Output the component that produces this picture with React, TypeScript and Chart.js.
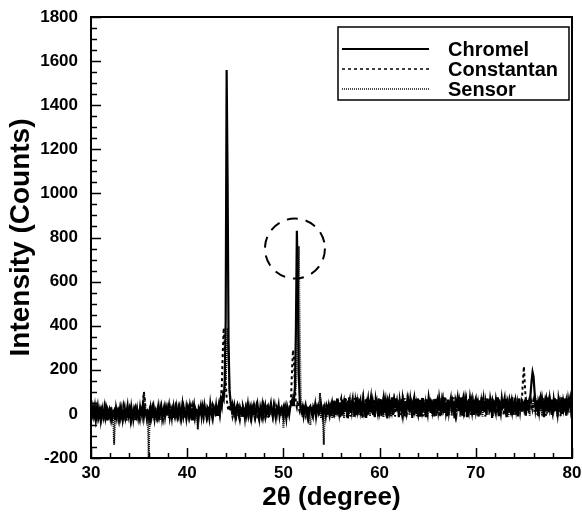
import React, { useEffect, useRef } from 'react';
import { Chart, registerables } from 'chart.js';

Chart.register(...registerables);

// ---- axis definition ----
const twoThetaStart = 30;
const twoThetaStep = 0.1;
const xMin = 30;
const xMax = 80;
const yMin = -200;
const yMax = 1800;
const xTickStep = 10;
const yTickStep = 200;
const xMinorStep = 2;
const yMinorStep = 50;

const xTitle = '2θ (degree)';
const yTitle = 'Intensity (Counts)';
const seriesLabels = ['Chromel', 'Constantan', 'Sensor'];

// ---- intensities, one row per degree (30.0 ... 30.9, 31.0 ...) ----
const chromel = [
  12, -18, 25, -5, 30, -22, 8, 35, -10, 15,
  -25, 20, 5, -15, 28, -8, 18, -30, 10, 22,
  -12, 30, -20, 8, 15, -28, 25, -5, 12, -18,
  32, -10, 20, -25, 5, 28, -15, 10, 38, -8,
  15, -22, 30, 0, -18, 25, 12, -28, 20, 5,
  -15, 28, -5, 18, 40, -12, 22, 10, -20, 15,
  10, -18, 25, -8, 30, 12, -22, 18, 5, -15,
  28, -10, 15, 35, -20, 8, 30, -12, 22, -5,
  18, 40, -15, 10, 25, -18, 32, 5, -10, 28,
  -8, 20, 35, -15, 12, 45, -5, 22, 8, -20,
  30, 10, -12, 38, 15, -25, 20, 42, -8, 18,
  5, -30, 25, 12, 35, -10, 28, -5, 40, 15,
  -12, 30, 20, -8, 45, 10, -15, 32, 18, 5,
  38, -5, 25, 48, 12, 60, 35, 85, 70, 150,
  420, 1560, 1050, 320, 110, 60, 30, 45, 10, 35,
  -10, 25, 40, 5, -15, 30, 15, -8, 35, 20,
  -18, 28, 10, 42, -5, 20, 35, -12, 25, 8,
  30, -10, 18, 45, 12, -20, 28, 5, 38, -8,
  22, 40, -5, 15, 30, -15, 25, 48, 10, -12,
  35, 8, -18, 28, 15, 40, -8, 22, 30, 5,
  -15, 28, 12, -20, 35, 18, -5, 30, 45, 60,
  40, 70, 120, 380, 830, 600, 180, 55, 25, 10,
  30, -8, 22, 40, 5, 18, -12, 28, 35, 10,
  -5, 30, 15, 42, -10, 25, 38, 8, 20, 45,
  10, -15, 30, 22, -8, 35, 18, 40, 5, 28,
  -10, 45, 20, 60, -5, 35, 70, 10, 50, -15,
  30, 65, 0, 40, 72, 15, 55, -20, 38, 62,
  5, 48, 70, 20, -12, 58, 30, 75, 8, 45,
  62, -8, 35, 70, 18, 50, -18, 40, 68, 12,
  45, 75, 5, 55, 25, -15, 65, 38, 10, 70,
  20, 58, -10, 45, 72, 8, 60, 30, -20, 50,
  68, 15, 42, 75, -5, 55, 28, 70, 12, 48,
  -15, 62, 35, 8, 70, 40, -10, 58, 25, 72,
  50, 10, 65, 30, -18, 55, 75, 20, 45, 0,
  70, 35, -8, 60, 22, 72, 12, 50, -15, 65,
  28, 75, 45, 5, 62, 18, 55, -12, 68, 38,
  60, 15, 72, 40, -5, 58, 30, 75, 10, 52,
  -10, 65, 25, 48, 70, 8, 55, 35, -20, 62,
  45, 72, 12, 58, 30, 75, -8, 50, 20, 68,
  35, -15, 60, 22, 72, 40, 10, 65, -5, 55,
  70, 25, 48, -12, 62, 30, 75, 15, 52, 8,
  58, -5, 70, 35, 20, 68, 42, -18, 60, 28,
  12, 65, 40, 75, -10, 55, 22, 70, 35, 50,
  72, 18, -15, 60, 45, 8, 68, 30, 75, -5,
  40, 62, 20, 55, -12, 70, 35, 15, 58, 48,
  25, 65, -8, 50, 30, 20, 45, 95, 150, 190,
  170, 105, 50, 10, 62, -10, 55, 72, 20, 68,
  38, -15, 60, 75, 25, 50, 8, 70, 42, -5,
  65, 30, 72, 12, 55, -12, 68, 40, 20, 75,
  0, 58, 35, 70, -8, 62, 25, 50, 72, 18,
  45,
];

const constantan = [
  -20, 15, -8, 28, 5, -25, 20, -12, 32, 0,
  18, -15, 30, 8, -22, 25, -5, 15, -28, 20,
  5, -20, 22, 10, -12, 30, -25, 18, 0, 25,
  -10, 28, 2, -18, 35, 12, -8, 25, -20, 15,
  30, 5, -15, 22, -25, 10, 28, -5, 15, -18,
  20, -10, 32, 5, 45, 100, 60, 10, -15, 25,
  -12, 22, 8, -20, 15, 35, -8, 28, -15, 10,
  25, -18, 30, 5, -10, 22, 38, -15, 12, 30,
  -5, 20, 35, 12, -20, 28, 8, -12, 32, 15,
  22, -10, 12, 30, -15, 25, 40, 5, -18, 28,
  -8, 32, 18, -5, 25, 40, -20, 15, 30, 10,
  28, 12, -10, 35, 20, -5, 15, 38, 10, -12,
  20, -8, 35, 15, 5, 30, 42, -10, 25, 12,
  30, 18, 40, 25, 55, 70, 130, 280, 390, 300,
  150, 70, 35, 15, 40, 10, 28, -5, 22, 30,
  12, -10, 28, 35, -5, 20, 8, 32, -12, 25,
  15, 30, -8, 20, 38, 5, -15, 28, 12, 35,
  -5, 22, 40, 10, -12, 30, 18, -8, 25, 42,
  8, -15, 28, 35, 12, -10, 20, 38, 5, 30,
  15, 40, 2, -12, 25, 35, 18, -8, 30, 10,
  28, -5, 35, 15, 0, 25, 40, 30, 80, 200,
  290, 250, 120, 50, 30, 60, 25, 10, 35, 18,
  -5, 28, 15, 40, 22, -10, 32, 12, 25, 38,
  20, -8, 30, 12, 35, 18, 40, -5, 28, 15,
  32, 5, 22, 38, 15, 28, -8, 20, 35, 12,
  40, 5, 60, -15, 50, 25, -5, 65, 18, 55,
  70, -8, 35, 58, 10, 68, -18, 45, 75, 20,
  -12, 62, 30, 8, 72, 38, -5, 55, 25, 68,
  15, 50, -20, 65, 40, 5, 72, 22, -10, 58,
  60, 18, 72, -8, 45, 68, 12, 50, 30, -15,
  48, 72, 22, 62, -5, 35, 75, -15, 55, 25,
  5, 38, 65, 18, 55, 70, -12, 40, 62, 20,
  58, 28, -5, 68, 45, 12, 72, 30, -18, 60,
  22, 70, 42, 8, 62, 35, -10, 55, 70, 15,
  -5, 48, 65, 30, 75, -12, 58, 25, 72, 40,
  62, 8, 35, 70, 15, 50, 68, 22, 45, -10,
  18, 58, 40, -15, 72, 25, 60, 5, 48, 70,
  70, 30, -5, 62, 38, 55, 12, 75, 28, -8,
  25, 60, 45, 8, 68, 15, 50, 72, -12, 40,
  65, -8, 30, 72, 12, 58, 75, 20, 45, 60,
  15, 55, 70, 28, 45, -5, 62, 38, 72, 20,
  -12, 68, 22, 58, 72, 10, 48, 65, 30, 55,
  45, 10, 62, 25, 68, 38, 5, 60, 72, -8,
  58, 40, 70, 12, 30, 65, 42, -10, 52, 25,
  20, 72, 8, 50, 62, 28, 40, 55, 70, 150,
  215, 130, 60, 20, 68, 5, 50, 72, 18, 45,
  62, 10, 70, 35, -5, 58, 40, 68, 12, 55,
  72, 22, 45, -8, 65, 30, 58, 15, 70, 40,
  10, 68, 35, 55, 72, 18, 48, 62, -10, 58,
  45, 20, 70, 32, 60, 10, 68, 38, 55, 72,
  30,
];

const sensor = [
  5, -28, 18, -10, 22, -32, 10, -15, 28, -20,
  8, -25, 15, -30, 12, -18, 25, -12, -28, 5,
  -22, 10, -15, 20, -140, -30, 15, -20, 8, -25,
  18, -15, 5, -28, 20, -10, 12, -32, 15, -5,
  -20, 12, -25, 8, 18, -30, 5, -12, 22, -18,
  10, -22, 15, -10, 60, 95, 40, 15, -20, -30,
  -195, 5, -25, 12, -18, 20, -30, 8, -15, 18,
  -10, 20, -28, 12, 5, -22, 15, -15, 25, -8,
  12, -20, 18, -8, -25, 15, 8, -18, 22, -12,
  -15, 25, -5, 10, -22, 18, -10, 28, -18, 5,
  15, -12, 22, -20, 8, 25, -10, 15, -18, 20,
  -5, -70, -15, 20, -8, 25, 5, -18, 22, 10,
  -15, 20, 8, -22, 28, -5, 15, -12, 25, 5,
  -10, 22, 10, 30, -5, 40, 60, 75, 80, 100,
  150, 250, 390, 250, 100, 45, 15, -10, 20, 5,
  -18, 12, 25, -10, 18, -22, 8, 20, -15, 12,
  5, -20, 22, -8, 15, 28, -15, 10, -5, 20,
  -12, 18, 5, -20, 25, -8, 12, 22, -15, 8,
  20, -10, 15, 28, -18, 10, -5, 22, 12, -15,
  8, 25, -12, 18, -5, 20, 30, -10, 15, 5,
  -65, -20, 10, 22, -8, 15, 5, 28, 40, 60,
  80, 70, 90, 120, 200, 500, 760, 350, 80, 20,
  -15, 20, 5, -10, 25, 12, -18, 8, -50, 15,
  20, -12, 10, 25, -5, 18, 30, -8, 95, -20,
  12, -30, -140, 15, 5, -15, 20, 8, -12, 22,
  20, -20, 40, 5, 30, 55, -10, 35, 0, 48,
  -5, 42, 20, -18, 50, 25, 5, 60, -12, 38,
  45, 10, 55, -15, 30, 8, 48, 15, 62, -5,
  28, 58, 2, 40, -12, 35, 52, -8, 45, 20,
  -10, 50, 30, 15, 62, -5, 40, 58, 0, 35,
  55, 0, 38, 20, -15, 50, 10, 48, 62, -8,
  30, 52, -12, 45, 25, 2, 58, 15, 40, 65,
  8, 40, 60, 22, -8, 55, 30, 45, 5, 38,
  62, -5, 28, 50, 15, 45, 0, 60, 32, -12,
  40, 18, 58, 5, 45, 30, 62, -8, 50, 20,
  -5, 48, 15, 55, 38, -12, 42, 60, 5, 30,
  52, 8, 45, -10, 30, 62, 18, 40, 58, 0,
  25, 58, 5, 40, 55, -8, 35, 12, 60, 45,
  0, 38, 60, 28, -12, 50, 42, 10, 55, 30,
  48, 20, 5, 58, 35, -5, 45, 62, 15, 40,
  30, 62, -8, 45, 10, 55, 38, -12, 50, 25,
  58, 12, 40, -5, 50, 30, 62, 20, -10, 48,
  35, 55, 8, 42, 28, -8, 60, 15, 45, 58,
  5, 40, 62, 30, -12, 50, 20, 55, 10, 45,
  55, -5, 38, 60, 22, 45, 8, 52, 30, 40,
  50, 25, 60, 12, 42, 58, -8, 35, 55, 20,
  40, 62, 15, 48, 30, 55, 5, 38, 60, -10,
  45, 20, 58, 32, 0, 50, 62, 18, 40, 55,
  12, 48, 30, 60, 22, -8, 45, 58, 25, 40,
  62, 8, 42, 55, 18, 38, 60, 5, 48, 30,
  25,
];

// highlighted reflection (dashed circle), in data units
const highlightCenter = { x: 51.2, y: 750 };

const FONT = "'Liberation Sans', Arial, Helvetica, sans-serif";

function toPoints(values: number[]) {
  return values.map((v, i) => ({
    x: Math.round((twoThetaStart + i * twoThetaStep) * 10) / 10,
    y: v,
  }));
}

const decorPlugin = {
  id: 'decor',
  afterDatasetsDraw(chart: any) {
    const { ctx, chartArea: a, scales } = chart;
    const xs = scales.x;
    const ys = scales.y;
    ctx.save();

    // dashed highlight circle
    ctx.strokeStyle = '#000';
    ctx.lineWidth = 2;
    ctx.setLineDash([11, 8]);
    ctx.beginPath();
    ctx.arc(xs.getPixelForValue(highlightCenter.x), ys.getPixelForValue(highlightCenter.y), 30, 0, Math.PI * 2);
    ctx.stroke();
    ctx.setLineDash([]);

    // inward ticks
    ctx.lineWidth = 1.5;
    ctx.beginPath();
    for (let v = xMin; v <= xMax + 1e-9; v += xMinorStep) {
      const px = Math.round(xs.getPixelForValue(v)) + 0.5;
      const major = Math.abs(v / xTickStep - Math.round(v / xTickStep)) < 1e-6;
      ctx.moveTo(px, a.bottom);
      ctx.lineTo(px, a.bottom - (major ? 10 : 5));
    }
    for (let v = yMin; v <= yMax + 1e-9; v += yMinorStep) {
      const py = Math.round(ys.getPixelForValue(v)) + 0.5;
      const major = Math.abs(v / yTickStep - Math.round(v / yTickStep)) < 1e-6;
      ctx.moveTo(a.left, py);
      ctx.lineTo(a.left + (major ? 10 : 6), py);
    }
    ctx.stroke();

    // frame
    ctx.lineWidth = 2;
    ctx.strokeRect(a.left, a.top, a.right - a.left, a.bottom - a.top);

    // legend
    const lw = 231;
    const lh = 73;
    const lx = a.right - lw - 3;
    const ly = a.top + 10;
    ctx.fillStyle = '#fff';
    ctx.fillRect(lx, ly, lw, lh);
    ctx.lineWidth = 1.5;
    ctx.strokeRect(lx, ly, lw, lh);
    ctx.font = `bold 20px ${FONT}`;
    ctx.textBaseline = 'middle';
    ctx.textAlign = 'left';
    chart.data.datasets.forEach((ds: any, i: number) => {
      const yy = ly + 22 + i * 20;
      ctx.strokeStyle = ds.borderColor;
      ctx.lineWidth = i === 0 ? 2 : 1.5;
      ctx.setLineDash(ds.borderDash || []);
      ctx.beginPath();
      ctx.moveTo(lx + 4, yy);
      ctx.lineTo(lx + 91, yy);
      ctx.stroke();
      ctx.setLineDash([]);
      ctx.fillStyle = '#000';
      ctx.fillText(ds.label, lx + 110, yy + 1);
    });

    ctx.restore();
  },
};

export default function App() {
  const canvasRef = useRef<HTMLCanvasElement | null>(null);

  useEffect(() => {
    if (!canvasRef.current) return;
    const chart = new Chart(canvasRef.current, {
      type: 'line',
      data: {
        datasets: [
          {
            label: seriesLabels[0],
            data: toPoints(chromel),
            borderColor: '#000',
            borderWidth: 2.2,
            borderDash: [],
            pointRadius: 0,
            tension: 0,
          },
          {
            label: seriesLabels[1],
            data: toPoints(constantan),
            borderColor: '#000',
            borderWidth: 2,
            borderDash: [3, 3],
            pointRadius: 0,
            tension: 0,
          },
          {
            label: seriesLabels[2],
            data: toPoints(sensor),
            borderColor: '#111',
            borderWidth: 2,
            borderDash: [1, 1],
            pointRadius: 0,
            tension: 0,
          },
        ],
      },
      options: {
        responsive: false,
        animation: false,
        events: [],
        layout: { padding: { left: 0, top: 17, right: 10, bottom: 0 } },
        plugins: {
          legend: { display: false },
          tooltip: { enabled: false },
        },
        scales: {
          x: {
            type: 'linear',
            min: xMin,
            max: xMax,
            grid: { display: false, drawTicks: false },
            border: { display: false },
            ticks: {
              stepSize: xTickStep,
              color: '#000',
              padding: 5,
              font: { family: FONT, size: 17, weight: 'bold' },
              callback: (v: any) => String(v),
            },
            title: {
              display: true,
              text: xTitle,
              color: '#000',
              padding: { top: 0, bottom: 7 },
              font: { family: FONT, size: 26, weight: 'bold' },
            },
            afterFit(scale: any) {
              scale.height = 62;
              scale.paddingLeft = 0;
              scale.paddingRight = 0;
            },
          },
          y: {
            type: 'linear',
            min: yMin,
            max: yMax,
            grid: { display: false, drawTicks: false },
            border: { display: false },
            ticks: {
              stepSize: yTickStep,
              color: '#000',
              padding: 13,
              font: { family: FONT, size: 17, weight: 'bold' },
              callback: (v: any) => String(v),
            },
            title: {
              display: true,
              text: yTitle,
              color: '#000',
              padding: { top: 4, bottom: 0 },
              font: { family: FONT, size: 28, weight: 'bold' },
            },
            afterFit(scale: any) {
              scale.width = 91;
              scale.paddingTop = 0;
              scale.paddingBottom = 0;
            },
          },
        },
      },
      plugins: [decorPlugin],
    });
    return () => chart.destroy();
  }, []);

  return (
    <div style={{ position: 'absolute', left: 0, top: 0, width: 582, height: 520, background: '#fff' }}>
      <canvas ref={canvasRef} width={582} height={520} />
    </div>
  );
}
